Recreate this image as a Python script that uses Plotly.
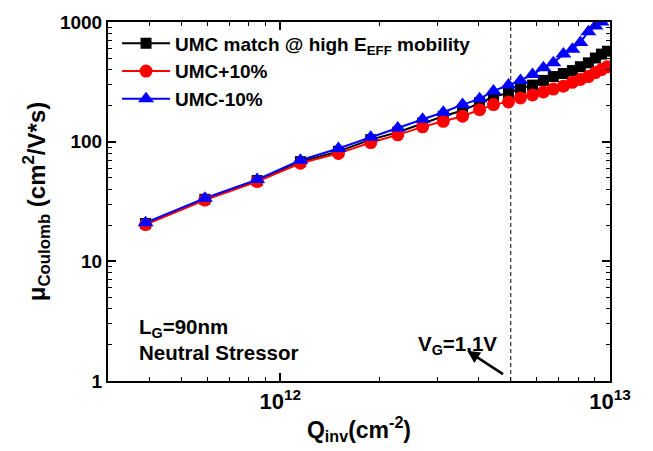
import plotly.graph_objects as go

# Data
q_inv = [0.39e12, 0.59e12, 0.85e12, 1.15e12, 1.50e12, 1.88e12, 2.27e12, 2.70e12,
         3.12e12, 3.57e12, 4.02e12, 4.43e12, 4.92e12, 5.35e12, 5.82e12, 6.28e12,
         6.73e12, 7.22e12, 7.69e12, 8.13e12, 8.60e12, 9.03e12, 9.42e12, 9.82e12]
mu_match = [20.7, 33, 47.3, 68, 83, 104, 120, 143, 163, 182, 212, 237, 255, 280,
            297, 325, 350, 371, 393, 423, 456, 500, 539, 570]
mu_plus10 = [20.3, 32.5, 46.4, 66, 79.8, 98.3, 114, 133, 148, 163, 185, 204, 215,
             232, 246, 260, 275, 291, 313, 331, 350, 378, 400, 423]
mu_minus10 = [21, 33.7, 48.2, 69.9, 87.6, 109, 130, 154, 176, 204, 228, 265, 297,
              325, 364, 414, 456, 539, 592, 675, 829, 928, 1000, 1100]

vg_line_q = 5e12
x_ticks = [1e12, 1e13]
x_ticktext = ["10<sup>12</sup>", "10<sup>13</sup>"]
y_ticks = [1, 10, 100, 1000]
y_ticktext = ["1", "10", "100", "1000"]

FONT = "Arial, Liberation Sans, sans-serif"

fig = go.Figure()

fig.add_trace(go.Scatter(
    x=[vg_line_q, vg_line_q], y=[1, 1000], mode="lines",
    line=dict(color="black", width=1, dash="4px,3px"), showlegend=False, hoverinfo="skip"))

fig.add_trace(go.Scatter(
    x=q_inv, y=mu_match, mode="lines+markers",
    name="<b>UMC match @ high E<sub>EFF</sub> mobility</b>",
    line=dict(color="black", width=2),
    marker=dict(symbol="square", size=11, color="black")))
fig.add_trace(go.Scatter(
    x=q_inv, y=mu_plus10, mode="lines+markers",
    name="<b>UMC+10%</b>",
    line=dict(color="#ff0000", width=2),
    marker=dict(symbol="circle", size=13, color="#ff0000")))
fig.add_trace(go.Scatter(
    x=q_inv, y=mu_minus10, mode="lines+markers",
    name="<b>UMC-10%</b>",
    line=dict(color="#0000ff", width=2),
    marker=dict(symbol="triangle-up", size=14, color="#0000ff")))

x_minor = [m * 10 ** e for e in (11, 12) for m in range(2, 10) if 3e11 <= m * 10 ** e < 1e13]
y_minor = [m * 10 ** e for e in (0, 1, 2) for m in range(2, 10)]

axis_common = dict(
    showline=True, linecolor="black", linewidth=2, mirror="allticks",
    ticks="inside", ticklen=8, tickwidth=1.5, tickcolor="black",
    showgrid=False, zeroline=False,
)

fig.update_xaxes(
    type="log", range=[11.477, 13],
    tickmode="array", tickvals=x_ticks, ticktext=x_ticktext,
    tickfont=dict(family=FONT, size=22, color="black", weight="bold"),
    minor=dict(tickmode="array", tickvals=x_minor, ticks="inside", ticklen=4,
               tickwidth=1.2, tickcolor="black", showgrid=False),
    title=dict(text="<b>Q<sub>inv</sub>(cm<sup>-2</sup>)</b>",
               font=dict(family=FONT, size=23, color="black"), standoff=8),
    **axis_common)
fig.update_yaxes(
    type="log", range=[0, 3],
    tickmode="array", tickvals=y_ticks, ticktext=y_ticktext,
    tickfont=dict(family=FONT, size=19, color="black", weight="bold"),
    minor=dict(tickmode="array", tickvals=y_minor, ticks="inside", ticklen=4,
               tickwidth=1.2, tickcolor="black", showgrid=False),
    title=dict(text="<b>\u03bc<sub>Coulomb</sub> (cm<sup>2</sup>/V*s)</b>",
               font=dict(family=FONT, size=24, color="black"), standoff=8),
    **axis_common)

fig.add_annotation(xref="paper", yref="paper", x=0.058, y=0.149, xanchor="left",
                   yanchor="middle", showarrow=False,
                   text="<b>L<sub>G</sub>=90nm</b>",
                   font=dict(family=FONT, size=20.5, color="black"))
fig.add_annotation(xref="paper", yref="paper", x=0.058, y=0.079, xanchor="left",
                   yanchor="middle", showarrow=False,
                   text="<b>Neutral Stressor</b>",
                   font=dict(family=FONT, size=20.5, color="black"))
fig.add_annotation(xref="paper", yref="paper", x=0.697, y=0.100, xanchor="center",
                   yanchor="middle", showarrow=False,
                   text="<b>V<sub>G</sub>=1.1V</b>",
                   font=dict(family=FONT, size=20.5, color="black"))
fig.add_annotation(xref="x", yref="y", x=12.567, y=0.252, axref="x", ayref="y",
                   ax=12.680, ay=0.049, text="", showarrow=True,
                   arrowhead=2, arrowsize=1, arrowwidth=2.5, arrowcolor="black")

fig.update_layout(
    width=653, height=451,
    margin=dict(l=108, r=43, t=15, b=67),
    paper_bgcolor="white", plot_bgcolor="white",
    font=dict(family=FONT, color="black"),
    legend=dict(x=0.018, y=0.993, xanchor="left", yanchor="top",
                bgcolor="rgba(0,0,0,0)", borderwidth=0,
                font=dict(family=FONT, size=19, color="black"),
                itemwidth=48, tracegroupgap=0),
)

fig.write_html("out.html")
